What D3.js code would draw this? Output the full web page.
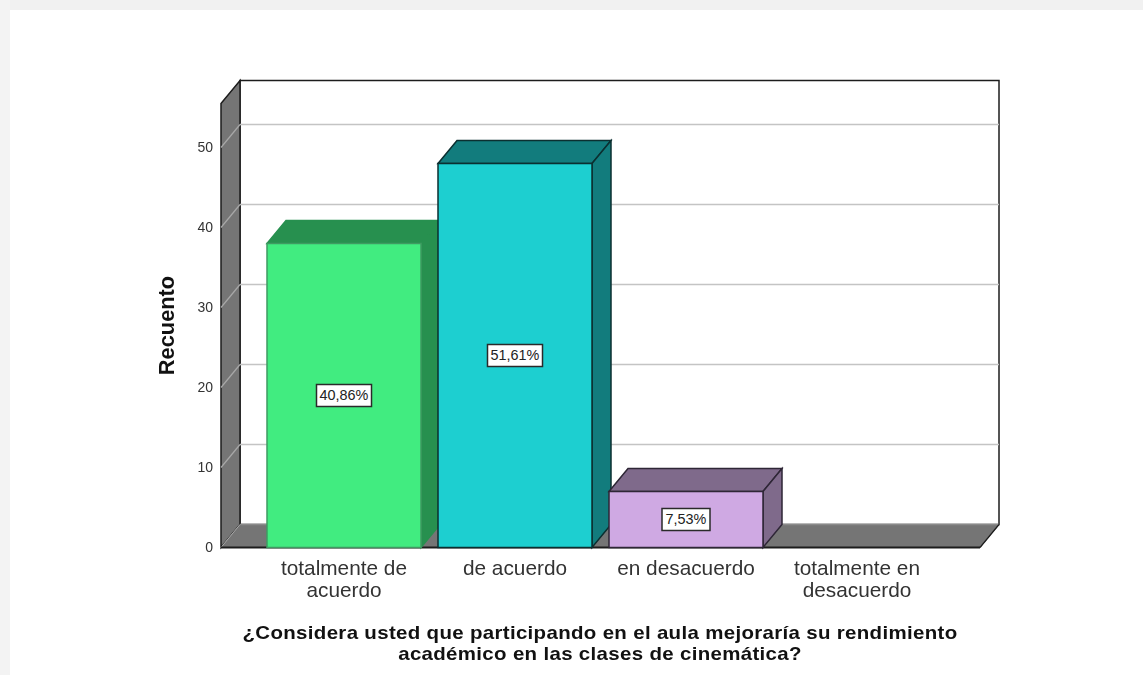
<!DOCTYPE html>
<html><head><meta charset="utf-8">
<script src="https://cdn.jsdelivr.net/npm/d3@7/dist/d3.min.js"></script>
<style>html,body{margin:0;padding:0;background:#fff;overflow:hidden}svg{display:block;filter:blur(0.4px)}text{font-family:"Liberation Sans",Arial,sans-serif}</style>
</head><body><svg id="c" width="1143" height="675"></svg>
<script>
const categories = [["totalmente de","acuerdo"],["de acuerdo"],["en desacuerdo"],["totalmente en","desacuerdo"]];
const counts = [38, 48, 7, 0];
const percentLabels = ["40,86%","51,61%","7,53%",null];
const frontColors = ["#41EC80","#1DCFD0","#CFA9E3",null];
const sideColors = ["#27904F","#127C7D","#7F6A8B",null];
const edgeColors = ["#3f9a62","#0b2f30","#2e2636",null];
const yTicks = [0,10,20,30,40,50];
const yLabel = "Recuento";
const titleLines = ["¿Considera usted que participando en el aula mejoraría su rendimiento","académico en las clases de cinemática?"];

const svg = d3.select("#c");
// page frame
svg.append("rect").attr("width",1143).attr("height",10).attr("fill","#f1f1f1");
svg.append("rect").attr("width",10).attr("height",675).attr("fill","#f3f3f3");

const y = d3.scaleLinear().domain([0,50]).range([547.5,147.5]);
const x = d3.scaleBand().domain(d3.range(4)).range([258.5,942.5]).paddingInner(17/171).paddingOuter(17/342);
const dx = 19, dy = -23;
const L = 221, R = 980, T = y(55.5);
const poly = p => p.map(q=>q.join(",")).join(" ");
const dark = "#1c1c1c";

// walls
svg.append("rect").attr("x",L+dx).attr("y",T+dy).attr("width",R-L).attr("height",y(0)-T)
  .attr("fill","#fff").attr("stroke",dark).attr("stroke-width",1.5);
svg.append("polygon").attr("points",poly([[L,T],[L+dx,T+dy],[L+dx,y(0)+dy],[L,y(0)]]))
  .attr("fill","#757575").attr("stroke",dark).attr("stroke-width",1.5);
svg.append("polygon").attr("points",poly([[L,y(0)],[L+dx,y(0)+dy],[R+dx,y(0)+dy],[R,y(0)]]))
  .attr("fill","#757575").attr("stroke","#757575").attr("stroke-width",1);
svg.append("line").attr("x1",L+dx).attr("x2",R+dx).attr("y1",y(0)+dy).attr("y2",y(0)+dy).attr("stroke","#8a8a8a").attr("stroke-width",1.5);
svg.append("line").attr("x1",R).attr("x2",R+dx).attr("y1",y(0)).attr("y2",y(0)+dy).attr("stroke",dark).attr("stroke-width",1.2);

// gridlines
yTicks.filter(t=>t>0).forEach(t=>{
  svg.append("line").attr("x1",L+dx).attr("x2",R+dx).attr("y1",y(t)+dy).attr("y2",y(t)+dy).attr("stroke","#c4c4c4").attr("stroke-width",1.3);
  svg.append("line").attr("x1",L).attr("x2",L+dx).attr("y1",y(t)).attr("y2",y(t)+dy).attr("stroke","#a8a8a8").attr("stroke-width",1.2);
});
svg.append("line").attr("x1",L).attr("x2",L+dx).attr("y1",y(0)).attr("y2",y(0)+dy).attr("stroke","#a8a8a8").attr("stroke-width",1);

// front floor edge
svg.append("line").attr("x1",L).attr("x2",R).attr("y1",y(0)).attr("y2",y(0)).attr("stroke",dark).attr("stroke-width",1.8);

// y tick labels
svg.selectAll("text.tick").data(yTicks).join("text").attr("class","tick")
  .attr("x",213).attr("y",d=>y(d)+1).attr("text-anchor","end").attr("dominant-baseline","middle")
  .attr("font-size",14).attr("fill","#333").text(d=>d);

// bars
const bars = svg.selectAll("g.bar").data(counts.map((v,i)=>({v,i})).filter(d=>d.v>0)).join("g").attr("class","bar");
const barStroke = d=>edgeColors[d.i];
bars.append("polygon").attr("points",d=>{const a=x(d.i),b=a+x.bandwidth(),t=y(d.v);return poly([[a,t],[a+dx,t+dy],[b+dx,t+dy],[b,t]]);})
  .attr("fill",d=>sideColors[d.i]).attr("stroke",d=>d.i===0?sideColors[0]:edgeColors[d.i]).attr("stroke-width",1.5);
bars.append("polygon").attr("points",d=>{const b=x(d.i)+x.bandwidth(),t=y(d.v);return poly([[b,t],[b+dx,t+dy],[b+dx,y(0)+dy],[b,y(0)]]);})
  .attr("fill",d=>sideColors[d.i]).attr("stroke",d=>d.i===0?sideColors[0]:edgeColors[d.i]).attr("stroke-width",1.5);
bars.append("rect").attr("x",d=>x(d.i)).attr("y",d=>y(d.v)).attr("width",x.bandwidth()).attr("height",d=>y(0)-y(d.v))
  .attr("fill",d=>frontColors[d.i]).attr("stroke",barStroke).attr("stroke-width",1.5);

// percent boxes
const lab = bars.append("g").attr("transform",d=>`translate(${x(d.i)+x.bandwidth()/2},${(y(0)+y(d.v))/2})`);
lab.append("rect").attr("x",d=>d.i===2?-24:-27.5).attr("y",-11).attr("width",d=>d.i===2?48:55).attr("height",22)
  .attr("fill","#fff").attr("stroke","#2a2a2a").attr("stroke-width",1.5);
lab.append("text").attr("text-anchor","middle").attr("dominant-baseline","middle").attr("y",1)
  .attr("font-size",14.4).attr("fill","#222").text(d=>percentLabels[d.i]);

// category labels
const cat = svg.selectAll("text.cat").data(categories).join("text").attr("class","cat")
  .attr("text-anchor","middle").attr("font-size",20.8).attr("fill","#333");
cat.selectAll("tspan").data((d,i)=>d.map((s,j)=>({s,j,i}))).join("tspan")
  .attr("x",d=>x(d.i)+x.bandwidth()/2).attr("y",d=>575+d.j*22).text(d=>d.s);

// axis titles
svg.append("text").attr("transform","translate(174,325.5) rotate(-90)").attr("text-anchor","middle")
  .attr("font-size",21.8).attr("font-weight","bold").attr("fill","#111").text(yLabel);
svg.selectAll("text.title").data(titleLines).join("text").attr("class","title")
  .attr("transform",(d,i)=>`translate(600,${639+i*21}) scale(1.1,1)`).attr("text-anchor","middle")
  .attr("font-size",18.6).attr("letter-spacing",0.3).attr("font-weight","bold").attr("fill","#111").text(d=>d);
</script></body></html>
